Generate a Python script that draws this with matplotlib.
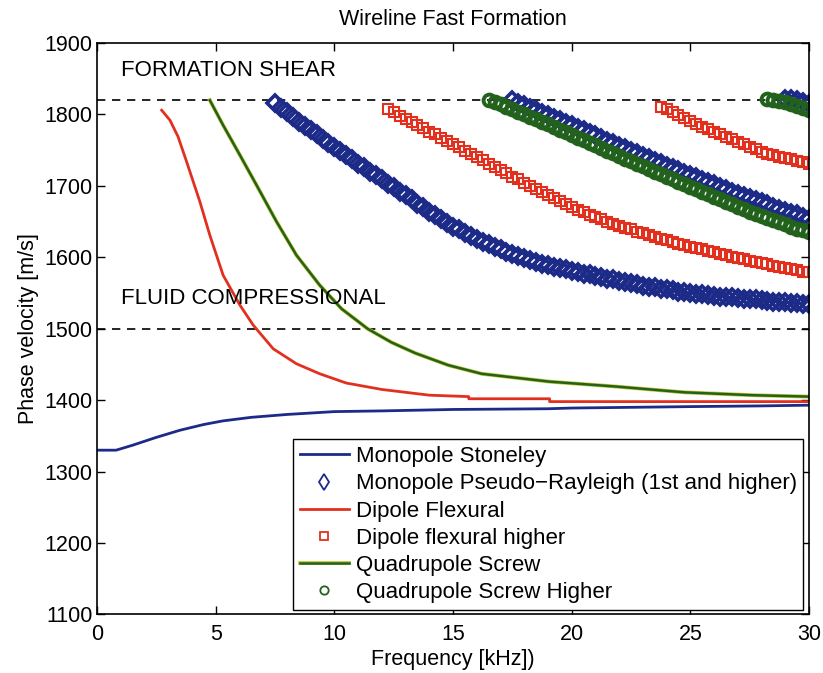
import numpy as np
import matplotlib
matplotlib.use('agg')
import matplotlib.pyplot as plt
import matplotlib.patheffects as pe

plt.rcParams['font.family'] = ['Liberation Sans', 'DejaVu Sans']

# --- values ------------------------------------------------------------
# Monopole Stoneley (line)
stoneley_f = [0, 0.8, 1.5, 2.5, 3.5, 4.5, 5.3, 6.5, 8, 10, 12, 15, 19, 20, 25, 28, 30]
stoneley_v = [1330, 1330, 1337, 1348, 1358, 1366, 1371, 1376, 1380, 1384, 1385, 1387,
              1388, 1389, 1391, 1392, 1393]

# Dipole flexural (line)
flex_f = [2.72, 3.07, 3.41, 3.77, 4.33, 4.75, 5.31, 6.02, 6.58, 7.42, 8.4, 9.38, 10.5,
          12.0, 14.0, 15.66, 15.66, 19.07, 19.07, 30]
flex_v = [1806, 1792, 1769, 1734, 1678, 1631, 1575, 1533, 1505, 1472, 1451, 1437, 1424,
          1415, 1407, 1405, 1402, 1402, 1398, 1398]

# Quadrupole screw (line)
screw_f = [4.75, 5.31, 6.02, 6.72, 7.56, 8.4, 9.38, 10.3, 11.4, 12.4, 13.4, 14.8, 16.2,
           19.05, 21.9, 24.75, 27.6, 30]
screw_v = [1820, 1785, 1743, 1701, 1650, 1603, 1561, 1528, 1500, 1481, 1466, 1449, 1437,
           1426, 1419, 1411, 1407, 1405]

# marker branches, sampled every 0.25 kHz from the given start frequency
step = 0.25
rayleigh1_start = 7.5
rayleigh1_v = [1816, 1809, 1803, 1797, 1790, 1784, 1778, 1772, 1766, 1760,
               1755, 1749, 1743, 1737, 1731, 1726, 1720, 1715,
               1709, 1703, 1698, 1692, 1687, 1681, 1675, 1670,
               1664, 1659, 1654, 1648, 1643, 1639, 1634, 1630,
               1626, 1622, 1618, 1615, 1611, 1608, 1605, 1602,
               1599, 1596, 1594, 1591, 1589, 1587, 1585, 1583,
               1581, 1579, 1577, 1576, 1574, 1572, 1570, 1569,
               1567, 1565, 1564, 1562, 1560, 1559, 1558, 1556,
               1555, 1554, 1552, 1551, 1550, 1549, 1548, 1547,
               1546, 1545, 1544, 1544, 1543, 1542, 1541, 1541,
               1540, 1539, 1538, 1538, 1537, 1536, 1536, 1535, 1535]
rayleigh2_start = 17.5
rayleigh2_v = [1820, 1816, 1813, 1809, 1806, 1802, 1799, 1795, 1792, 1788,
               1785, 1781, 1778, 1774, 1771, 1767, 1763, 1760, 1756, 1753,
               1749, 1746, 1742, 1739, 1735, 1732, 1728, 1725, 1722, 1718,
               1715, 1712, 1708, 1705, 1702, 1699, 1695, 1692, 1689, 1686,
               1683, 1680, 1677, 1674, 1671, 1668, 1665, 1662, 1660, 1657, 1654]
rayleigh3_start = 29.0
rayleigh3_v = [1822, 1821, 1820, 1818, 1815]

flexhi1_start = 12.25
flexhi1_v = [1807, 1803, 1798, 1794, 1790, 1785, 1781, 1776, 1772, 1767, 1763, 1758,
             1754, 1749, 1745, 1740, 1736, 1731, 1727, 1722, 1718, 1713, 1709, 1704,
             1700, 1696, 1691, 1687, 1683, 1679, 1674, 1670, 1666, 1663, 1659, 1656,
             1653, 1650, 1647, 1644, 1641, 1639, 1636, 1634, 1631, 1629, 1626, 1624,
             1622, 1619, 1617, 1615, 1613, 1611, 1609, 1607, 1605, 1603, 1601, 1599,
             1597, 1595, 1594, 1592, 1590, 1588, 1587, 1585, 1583, 1582, 1580, 1579]
flexhi2_start = 23.75
flexhi2_v = [1811, 1807, 1803, 1799, 1795, 1791, 1787, 1783, 1779, 1775, 1772, 1768,
             1765, 1761, 1758, 1754, 1751, 1748, 1745, 1743, 1741, 1739, 1737, 1735,
             1733, 1731]

screwhi1_start = 16.5
screwhi1_v = [1820, 1817, 1815, 1811, 1808, 1804, 1801, 1797, 1793, 1790, 1786, 1782,
              1778, 1775, 1771, 1767, 1764, 1760, 1757, 1753, 1749, 1746, 1742, 1738,
              1735, 1731, 1728, 1724, 1720, 1717, 1713, 1709, 1706, 1702, 1699, 1695,
              1692, 1688, 1685, 1681, 1678, 1674, 1671, 1668, 1664, 1661, 1658, 1655,
              1652, 1649, 1646, 1643, 1640, 1638, 1635]
screwhi2_start = 28.25
screwhi2_v = [1821, 1820, 1819, 1817, 1815, 1812, 1809, 1806]

shear_vel = 1820
fluid_vel = 1500

def freqs(start, vals):
    return start + step * np.arange(len(vals))

blue = '#1c2a88'
red = '#e2301e'
green = '#22621c'

fig = plt.figure(figsize=(8.23, 6.73), dpi=100)
ax = fig.add_axes([0.118, 0.087, 0.865, 0.849])

ax.axhline(shear_vel, color='k', ls=(0, (5, 4)), lw=1.2)
ax.axhline(fluid_vel, color='k', ls=(0, (5, 4)), lw=1.2)

ax.plot(stoneley_f, stoneley_v, color=blue, lw=2.0, label='Monopole Stoneley')

dmk = dict(ls='none', marker='D', ms=8, mec=blue, mfc='none', mew=2.6)
ax.plot(freqs(rayleigh1_start, rayleigh1_v), rayleigh1_v,
        label='Monopole Pseudo\u2212Rayleigh (1st and higher)', **dmk)
ax.plot(freqs(rayleigh2_start, rayleigh2_v), rayleigh2_v, **dmk)
ax.plot(freqs(rayleigh3_start, rayleigh3_v), rayleigh3_v, **dmk)

ax.plot(flex_f, flex_v, color=red, lw=2.0, label='Dipole Flexural')
smk = dict(ls='none', marker='s', ms=7.5, mec=red, mfc='none', mew=1.5)
ax.plot(freqs(flexhi1_start, flexhi1_v), flexhi1_v, label='Dipole flexural higher', **smk)
ax.plot(freqs(flexhi2_start, flexhi2_v), flexhi2_v, **smk)

ax.plot(screw_f, screw_v, color=green, lw=1.8, label='Quadrupole Screw',
        path_effects=[pe.Stroke(linewidth=2.8, foreground='#c9c83a'), pe.Normal()])
omk = dict(ls='none', marker='o', ms=8.5, mec=green, mfc='none', mew=2.8)
ax.plot(freqs(screwhi1_start, screwhi1_v), screwhi1_v, label='Quadrupole Screw Higher', **omk)
ax.plot(freqs(screwhi2_start, screwhi2_v), screwhi2_v, **omk)

ax.text(1.0, 1862, 'FORMATION SHEAR', fontsize=16, va='center')
ax.text(1.0, 1543, 'FLUID COMPRESSIONAL', fontsize=16, va='center')

ax.set_xlim(0, 30)
ax.set_ylim(1100, 1900)
ax.set_xticks(np.arange(0, 31, 5))
ax.set_yticks(np.arange(1100, 1901, 100))
ax.tick_params(direction='in', top=True, right=True, length=6, width=1, labelsize=15.5)
ax.tick_params(axis='x', pad=7)
for s in ax.spines.values():
    s.set_linewidth(1.2)

ax.set_xlabel('Frequency [kHz])', fontsize=15.5, labelpad=3)
ax.set_ylabel('Phase velocity [m/s]', fontsize=15.5, labelpad=4)
ax.set_title('Wireline Fast Formation', fontsize=15.5, pad=13)

leg = ax.legend(loc='lower right', bbox_to_anchor=(0.992, 0.008), fontsize=16,
                frameon=True, fancybox=False, edgecolor='k', framealpha=1,
                borderpad=0.3, labelspacing=0.28, handlelength=2.2,
                handletextpad=0.3, borderaxespad=0)
leg.get_frame().set_linewidth(1.0)
for h in leg.legend_handles:
    m = h.get_marker()
    if m == 'D':
        h.set_marker('d')
        h.set_markersize(8)
    if m not in (None, 'None', ''):
        h.set_markeredgewidth(1.3)
        if m != 'D':
            h.set_markersize(6)

fig.savefig('out.png', dpi=100)
